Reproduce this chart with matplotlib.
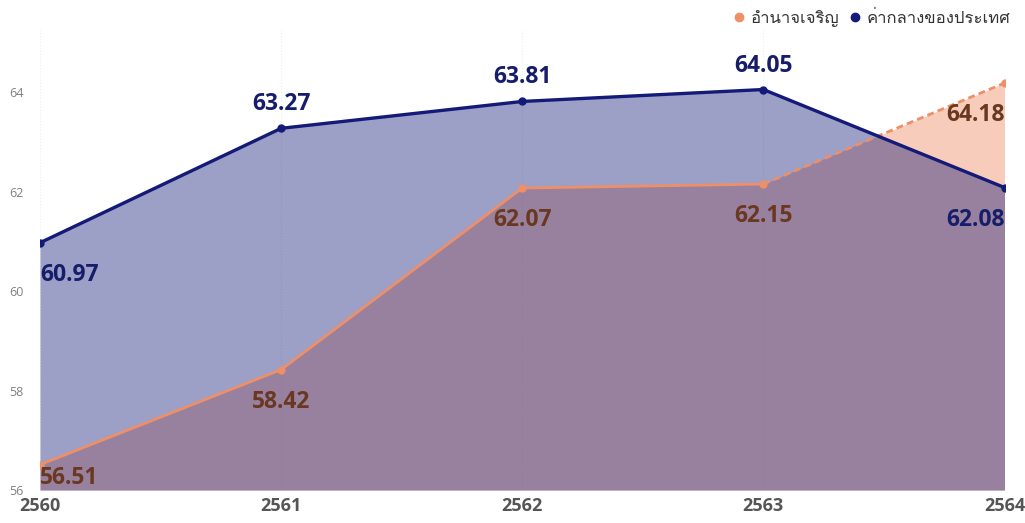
import matplotlib
matplotlib.use("Agg")
import matplotlib.pyplot as plt
from matplotlib import font_manager
from matplotlib.lines import Line2D

# ค่าจากภาพ
years = [2560, 2561, 2562, 2563, 2564]
amnat = [56.51, 58.42, 62.07, 62.15, 64.18]
national = [60.97, 63.27, 63.81, 64.05, 62.08]
legend_labels = ["อำนาจเจริญ", "ค่ากลางของประเทศ"]
yticks = [56, 58, 60, 62, 64]

# หาฟอนต์ที่มีอักษรไทย
def find_thai_font():
    try:
        from fontTools.ttLib import TTFont
    except ImportError:
        return None
    for f in font_manager.fontManager.ttflist:
        try:
            cmap = TTFont(f.fname, fontNumber=0, lazy=True).getBestCmap()
        except Exception:
            continue
        if cmap and 0x0E2D in cmap and 0x0E0D in cmap:
            return f.name
    return None

thai = find_thai_font()
fams = ["Open Sans", "DejaVu Sans"]
if thai:
    fams.insert(1, thai)
plt.rcParams["font.family"] = fams

orange = "#ef8f68"
navy = "#141a78"
orange_txt = "#6a3820"
navy_txt = "#161d6a"

fig = plt.figure(figsize=(10.25, 5.23), dpi=100)
ax = fig.add_axes([0.039, 0.063, 0.941, 0.88])

x = list(range(len(years)))

ax.fill_between(x, amnat, 56, color=orange, alpha=0.45, lw=0)
ax.fill_between(x, national, 56, color=navy, alpha=0.42, lw=0)

ax.plot(x[:-1], amnat[:-1], color=orange, lw=2.0, marker="o", ms=5, zorder=4)
ax.plot(x[-2:], amnat[-2:], color=orange, lw=2.0, ls=(0, (2.5, 1.5)), zorder=4)
ax.plot(x[-1:], amnat[-1:], color=orange, marker="o", ms=5, zorder=4)
ax.plot(x, national, color=navy, lw=2.4, marker="o", ms=5, zorder=5)

last = len(x) - 1
for i, v in enumerate(national):
    ha = "left" if i == 0 else ("right" if i == last else "center")
    dy = -32 if v < amnat[i] or i == 0 else 24
    ax.annotate(f"{v:.2f}", (x[i], v), xytext=(0, dy), textcoords="offset pixels",
                ha=ha, va="center", fontsize=16.5, fontweight="bold", color=navy_txt, zorder=6)
for i, v in enumerate(amnat):
    ha = "left" if i == 0 else ("right" if i == last else "center")
    dy = -13 if i == 0 else -32
    ax.annotate(f"{v:.2f}", (x[i], v), xytext=(0, dy), textcoords="offset pixels",
                ha=ha, va="center", fontsize=16.5, fontweight="bold", color=orange_txt, zorder=6)

ax.set_xlim(0, last)
ax.set_ylim(56, 65.25)
ax.set_yticks(yticks)
ax.set_yticklabels([str(t) for t in yticks])
ax.set_xticks(x)
ax.set_xticklabels([str(y) for y in years])
ax.tick_params(axis="y", length=0, labelsize=9, labelcolor="#808080", pad=12)
ax.tick_params(axis="x", length=0, labelsize=13, labelcolor="#555555", pad=5)
for lbl in ax.get_xticklabels():
    lbl.set_fontweight("bold")
for s in ax.spines.values():
    s.set_visible(False)
ax.grid(axis="x", color="#eeeeee", ls=":", lw=0.8)
ax.set_axisbelow(True)

handles = [Line2D([], [], ls="", marker="o", ms=6, color=orange),
           Line2D([], [], ls="", marker="o", ms=6, color=navy)]
fig.legend(handles, legend_labels, loc="upper right", bbox_to_anchor=(1.0, 1.01), ncol=2,
           frameon=False, fontsize=12, handletextpad=0.3, columnspacing=0.5,
           handlelength=0.8, labelcolor="#333333")

fig.savefig("out.png", dpi=100)
